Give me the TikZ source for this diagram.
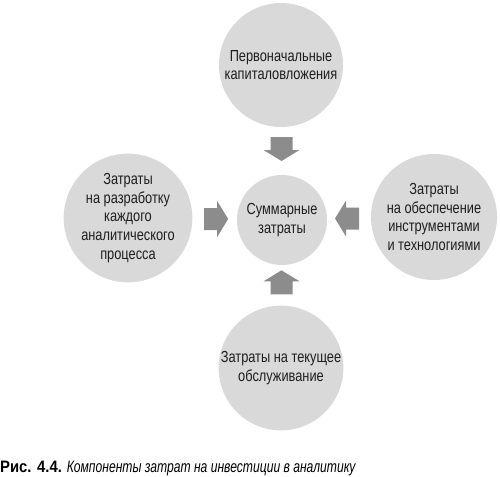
\documentclass[tikz,border=0pt]{standalone}
\usepackage{fontspec}
\setmainfont{Liberation Sans}[FakeStretch=0.8]
\newfontfamily\capbold{Liberation Sans}[FakeStretch=0.9]
\newfontfamily\capital{Liberation Sans}[FakeStretch=0.735]
\usetikzlibrary{calc}
\definecolor{circfill}{RGB}{217,217,217}
\definecolor{arrowfill}{RGB}{140,140,140}
\definecolor{textcol}{RGB}{30,30,30}
\tikzset{
  blob/.style={circle, fill=circfill, inner sep=0pt, align=center, text=textcol,
    font=\fontsize{16}{18.6}\selectfont},
  blockarrow/.pic={\fill[arrowfill] (-12,-11) -- (1,-11) -- (1,-18) -- (12,0) -- (1,18) -- (1,11) -- (-12,11) -- cycle;}
}
\begin{document}
\begin{tikzpicture}[x=1pt,y=-1pt]
\useasboundingbox (0,0) rectangle (500,476);
\node[blob, minimum size=124pt] (top) at (281,65) {Первоначальные\\капиталовложения};
\node[blob, minimum size=90pt] (sum) at (282,220) {Суммарные\\затраты};
\node[blob, minimum size=128pt] (left) at (128,218) {Затраты\\на разработку\\каждого\\аналитического\\процесса};
\node[blob, minimum size=126pt] (right) at (434,217) {Затраты\\на обеспечение\\инструментами\\и технологиями};
\node[blob, minimum size=124pt] (bottom) at (281,368) {Затраты на текущее\\обслуживание};
\coordinate (atop) at ($(top.south)!0.5!(sum.north)+(0,-2)$);
\coordinate (abot) at ($(bottom.north)!0.5!(sum.south)+(0,-3)$);
\coordinate (aleft) at ($(left.east)!0.5!(sum.west)+(1.5,0)$);
\coordinate (aright) at ($(right.west)!0.5!(sum.east)+(-2,0)$);
\pic[rotate=-90] at (atop) {blockarrow};
\pic[rotate=90] at (abot) {blockarrow};
\pic at (aleft) {blockarrow};
\pic[rotate=180] at (aright) {blockarrow};
\node[anchor=base west, inner sep=0pt, text=black, font=\fontsize{16.5}{18}\selectfont] (cap) at (0,472)
  {{\capbold\bfseries Рис. 4.4.} {\capital\itshape Компоненты затрат на инвестиции в аналитику}};
\end{tikzpicture}
\end{document}
